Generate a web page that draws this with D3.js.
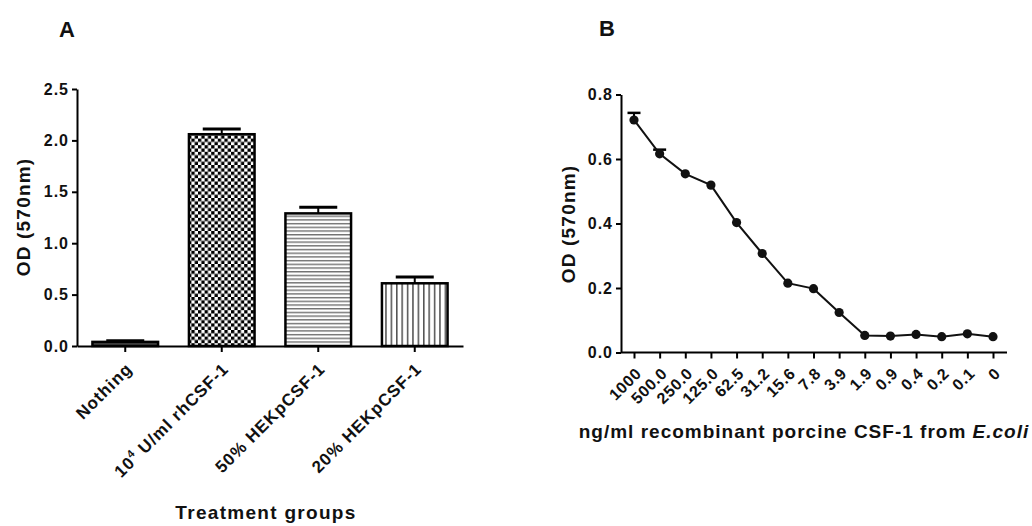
<!DOCTYPE html>
<html>
<head>
<meta charset="utf-8">
<script src="https://cdnjs.cloudflare.com/ajax/libs/d3/7.8.5/d3.min.js"></script>
<style>
  body { margin: 0; background: #fff; }
  svg { font-family: "Liberation Sans", Arial, sans-serif; }
</style>
</head>
<body>
<svg id="chart" width="1032" height="526"></svg>
<script>
// panel A data
var groups = ['Nothing', 'rh', '50% HEKpCSF-1', '20% HEKpCSF-1'];
var groupMeans = [0.04, 2.06, 1.29, 0.61];
var groupErr = [0.01, 0.05, 0.06, 0.06];
var yTicksA = [0, 0.5, 1.0, 1.5, 2.0, 2.5];

// panel B data
var doses = ['1000', '500.0', '250.0', '125.0', '62.5', '31.2', '15.6', '7.8', '3.9', '1.9', '0.9', '0.4', '0.2', '0.1', '0'];
var odValues = [0.721, 0.616, 0.554, 0.519, 0.403, 0.307, 0.215, 0.198, 0.124, 0.053, 0.051, 0.056, 0.049, 0.058, 0.049];
var odErr = [0.022, 0.013, 0, 0, 0, 0, 0, 0, 0, 0, 0, 0, 0, 0, 0];
var yTicksB = [0, 0.2, 0.4, 0.6, 0.8];

var svg = d3.select('#chart');

// patterns for bars
var defs = svg.append('defs');
var checker = defs.append('pattern').attr('id', 'checker')
    .attr('patternUnits', 'userSpaceOnUse').attr('width', 6.6).attr('height', 6.6);
checker.append('rect').attr('width', 6.6).attr('height', 6.6).attr('fill', '#fff');
checker.append('rect').attr('width', 3.3).attr('height', 3.3).attr('fill', '#000');
checker.append('rect').attr('x', 3.3).attr('y', 3.3).attr('width', 3.3).attr('height', 3.3).attr('fill', '#000');

var hlines = defs.append('pattern').attr('id', 'hlines')
    .attr('patternUnits', 'userSpaceOnUse').attr('width', 8).attr('height', 3.7);
hlines.append('rect').attr('width', 8).attr('height', 3.7).attr('fill', '#fff');
hlines.append('rect').attr('y', 1).attr('width', 8).attr('height', 1.3).attr('fill', '#666');

var vlines = defs.append('pattern').attr('id', 'vlines')
    .attr('patternUnits', 'userSpaceOnUse').attr('width', 5.4).attr('height', 8);
vlines.append('rect').attr('width', 5.4).attr('height', 8).attr('fill', '#fff');
vlines.append('rect').attr('x', 2).attr('width', 1.2).attr('height', 8).attr('fill', '#222');

var fills = ['#444', 'url(#checker)', 'url(#hlines)', 'url(#vlines)'];

function boldText(sel, size, spacing) {
    return sel.style('font-size', size + 'px').style('font-weight', 'bold')
        .style('letter-spacing', spacing + 'px').attr('fill', '#111');
}

// ---------- panel A ----------
var xA = d3.scaleBand().domain(groups).range([77, 463]).paddingInner(0.32).paddingOuter(0.16);
var yA = d3.scaleLinear().domain([0, 2.5]).range([346, 89]);

boldText(svg.append('text').attr('x', 59).attr('y', 37), 22, 0).text('A');

var gA = svg.append('g');

gA.selectAll('.err').data(groups).enter().append('g').each(function (d, i) {
    var cx = xA(d) + xA.bandwidth() / 2;
    var g = d3.select(this);
    g.append('line').attr('x1', cx).attr('x2', cx)
        .attr('y1', yA(groupMeans[i])).attr('y2', yA(groupMeans[i] + groupErr[i]))
        .attr('stroke', '#000').attr('stroke-width', 2);
    g.append('line').attr('x1', cx - 19).attr('x2', cx + 19)
        .attr('y1', yA(groupMeans[i] + groupErr[i])).attr('y2', yA(groupMeans[i] + groupErr[i]))
        .attr('stroke', '#000').attr('stroke-width', 3);
});

gA.selectAll('.bar').data(groups).enter().append('rect')
    .attr('x', function (d) { return xA(d); })
    .attr('y', function (d, i) { return yA(groupMeans[i]); })
    .attr('width', xA.bandwidth())
    .attr('height', function (d, i) { return yA(0) - yA(groupMeans[i]); })
    .attr('fill', function (d, i) { return fills[i]; })
    .attr('stroke', '#000').attr('stroke-width', 2.5);

var axA = gA.append('g').attr('transform', 'translate(77,0)')
    .call(d3.axisLeft(yA).tickValues(yTicksA).tickFormat(d3.format('.1f')).tickSize(5).tickSizeOuter(0));
axA.select('.domain').attr('stroke-width', 2);
axA.selectAll('.tick line').attr('stroke-width', 2);
boldText(axA.selectAll('.tick text').attr('x', -8), 16, 1);

var axAx = gA.append('g').attr('transform', 'translate(0,346)')
    .call(d3.axisBottom(xA).tickSize(6).tickSizeOuter(0));
axAx.select('.domain').attr('stroke-width', 2);
axAx.selectAll('.tick line').attr('stroke-width', 2);
axAx.selectAll('.tick text').remove();

axAx.selectAll('.tick').each(function (d) {
    var t = boldText(d3.select(this).append('text')
        .attr('transform', 'translate(8,24) rotate(-45)')
        .attr('text-anchor', 'end'), 17, 1);
    if (d === 'rh') {
        t.append('tspan').text('10');
        t.append('tspan').attr('dy', -7).style('font-size', '11px').text('4');
        t.append('tspan').attr('dy', 7).text(' U/ml rhCSF-1');
    } else {
        t.text(d);
    }
});

boldText(svg.append('text').attr('x', 266).attr('y', 519).attr('text-anchor', 'middle'), 19, 1.3)
    .text('Treatment groups');

boldText(svg.append('text').attr('transform', 'translate(30,217) rotate(-90)').attr('text-anchor', 'middle'), 19, 1.2)
    .text('OD (570nm)');

// ---------- panel B ----------
var xB = d3.scalePoint().domain(doses).range([634, 993]);
var yB = d3.scaleLinear().domain([0, 0.8]).range([352.5, 94.5]);

boldText(svg.append('text').attr('x', 599).attr('y', 36), 22, 0).text('B');

var gB = svg.append('g');

var axB = gB.append('g').attr('transform', 'translate(621,0)')
    .call(d3.axisLeft(yB).tickValues(yTicksB).tickFormat(d3.format('.1f')).tickSize(5).tickSizeOuter(0));
axB.select('.domain').attr('stroke-width', 2);
axB.selectAll('.tick line').attr('stroke-width', 2);
boldText(axB.selectAll('.tick text').attr('x', -8), 16, 1);

var axBx = gB.append('g').attr('transform', 'translate(0,352.5)')
    .call(d3.axisBottom(xB).tickSize(6).tickSizeOuter(0));
axBx.select('.domain').attr('d', 'M621,0H1007').attr('stroke-width', 2);
axBx.selectAll('.tick line').attr('stroke-width', 2);
boldText(axBx.selectAll('.tick text')
    .attr('transform', 'translate(8,22) rotate(-45)')
    .attr('x', 0).attr('y', 0).attr('dy', 0)
    .attr('text-anchor', 'end'), 16, 0.6);

var line = d3.line()
    .x(function (d, i) { return xB(doses[i]); })
    .y(function (d) { return yB(d); });

gB.selectAll('.errB').data(doses.filter(function (d, i) { return odErr[i] > 0; }))
    .enter().append('g').each(function (d) {
        var i = doses.indexOf(d);
        var cx = xB(d);
        var g = d3.select(this);
        g.append('line').attr('x1', cx).attr('x2', cx)
            .attr('y1', yB(odValues[i])).attr('y2', yB(odValues[i] + odErr[i]))
            .attr('stroke', '#000').attr('stroke-width', 2);
        g.append('line').attr('x1', cx - 6.5).attr('x2', cx + 6.5)
            .attr('y1', yB(odValues[i] + odErr[i])).attr('y2', yB(odValues[i] + odErr[i]))
            .attr('stroke', '#000').attr('stroke-width', 2.5);
    });

gB.append('path').datum(odValues).attr('d', line)
    .attr('fill', 'none').attr('stroke', '#111').attr('stroke-width', 2);

gB.selectAll('.pt').data(odValues).enter().append('circle')
    .attr('cx', function (d, i) { return xB(doses[i]); })
    .attr('cy', function (d) { return yB(d); })
    .attr('r', 4.6).attr('fill', '#111');

boldText(svg.append('text').attr('transform', 'translate(575,224) rotate(-90)').attr('text-anchor', 'middle'), 19, 1.2)
    .text('OD (570nm)');

var xt = boldText(svg.append('text').attr('x', 804).attr('y', 438).attr('text-anchor', 'middle'), 19, 1);
xt.append('tspan').text('ng/ml recombinant porcine CSF-1 from ');
xt.append('tspan').style('font-style', 'italic').text('E.coli');
</script>
</body>
</html>
